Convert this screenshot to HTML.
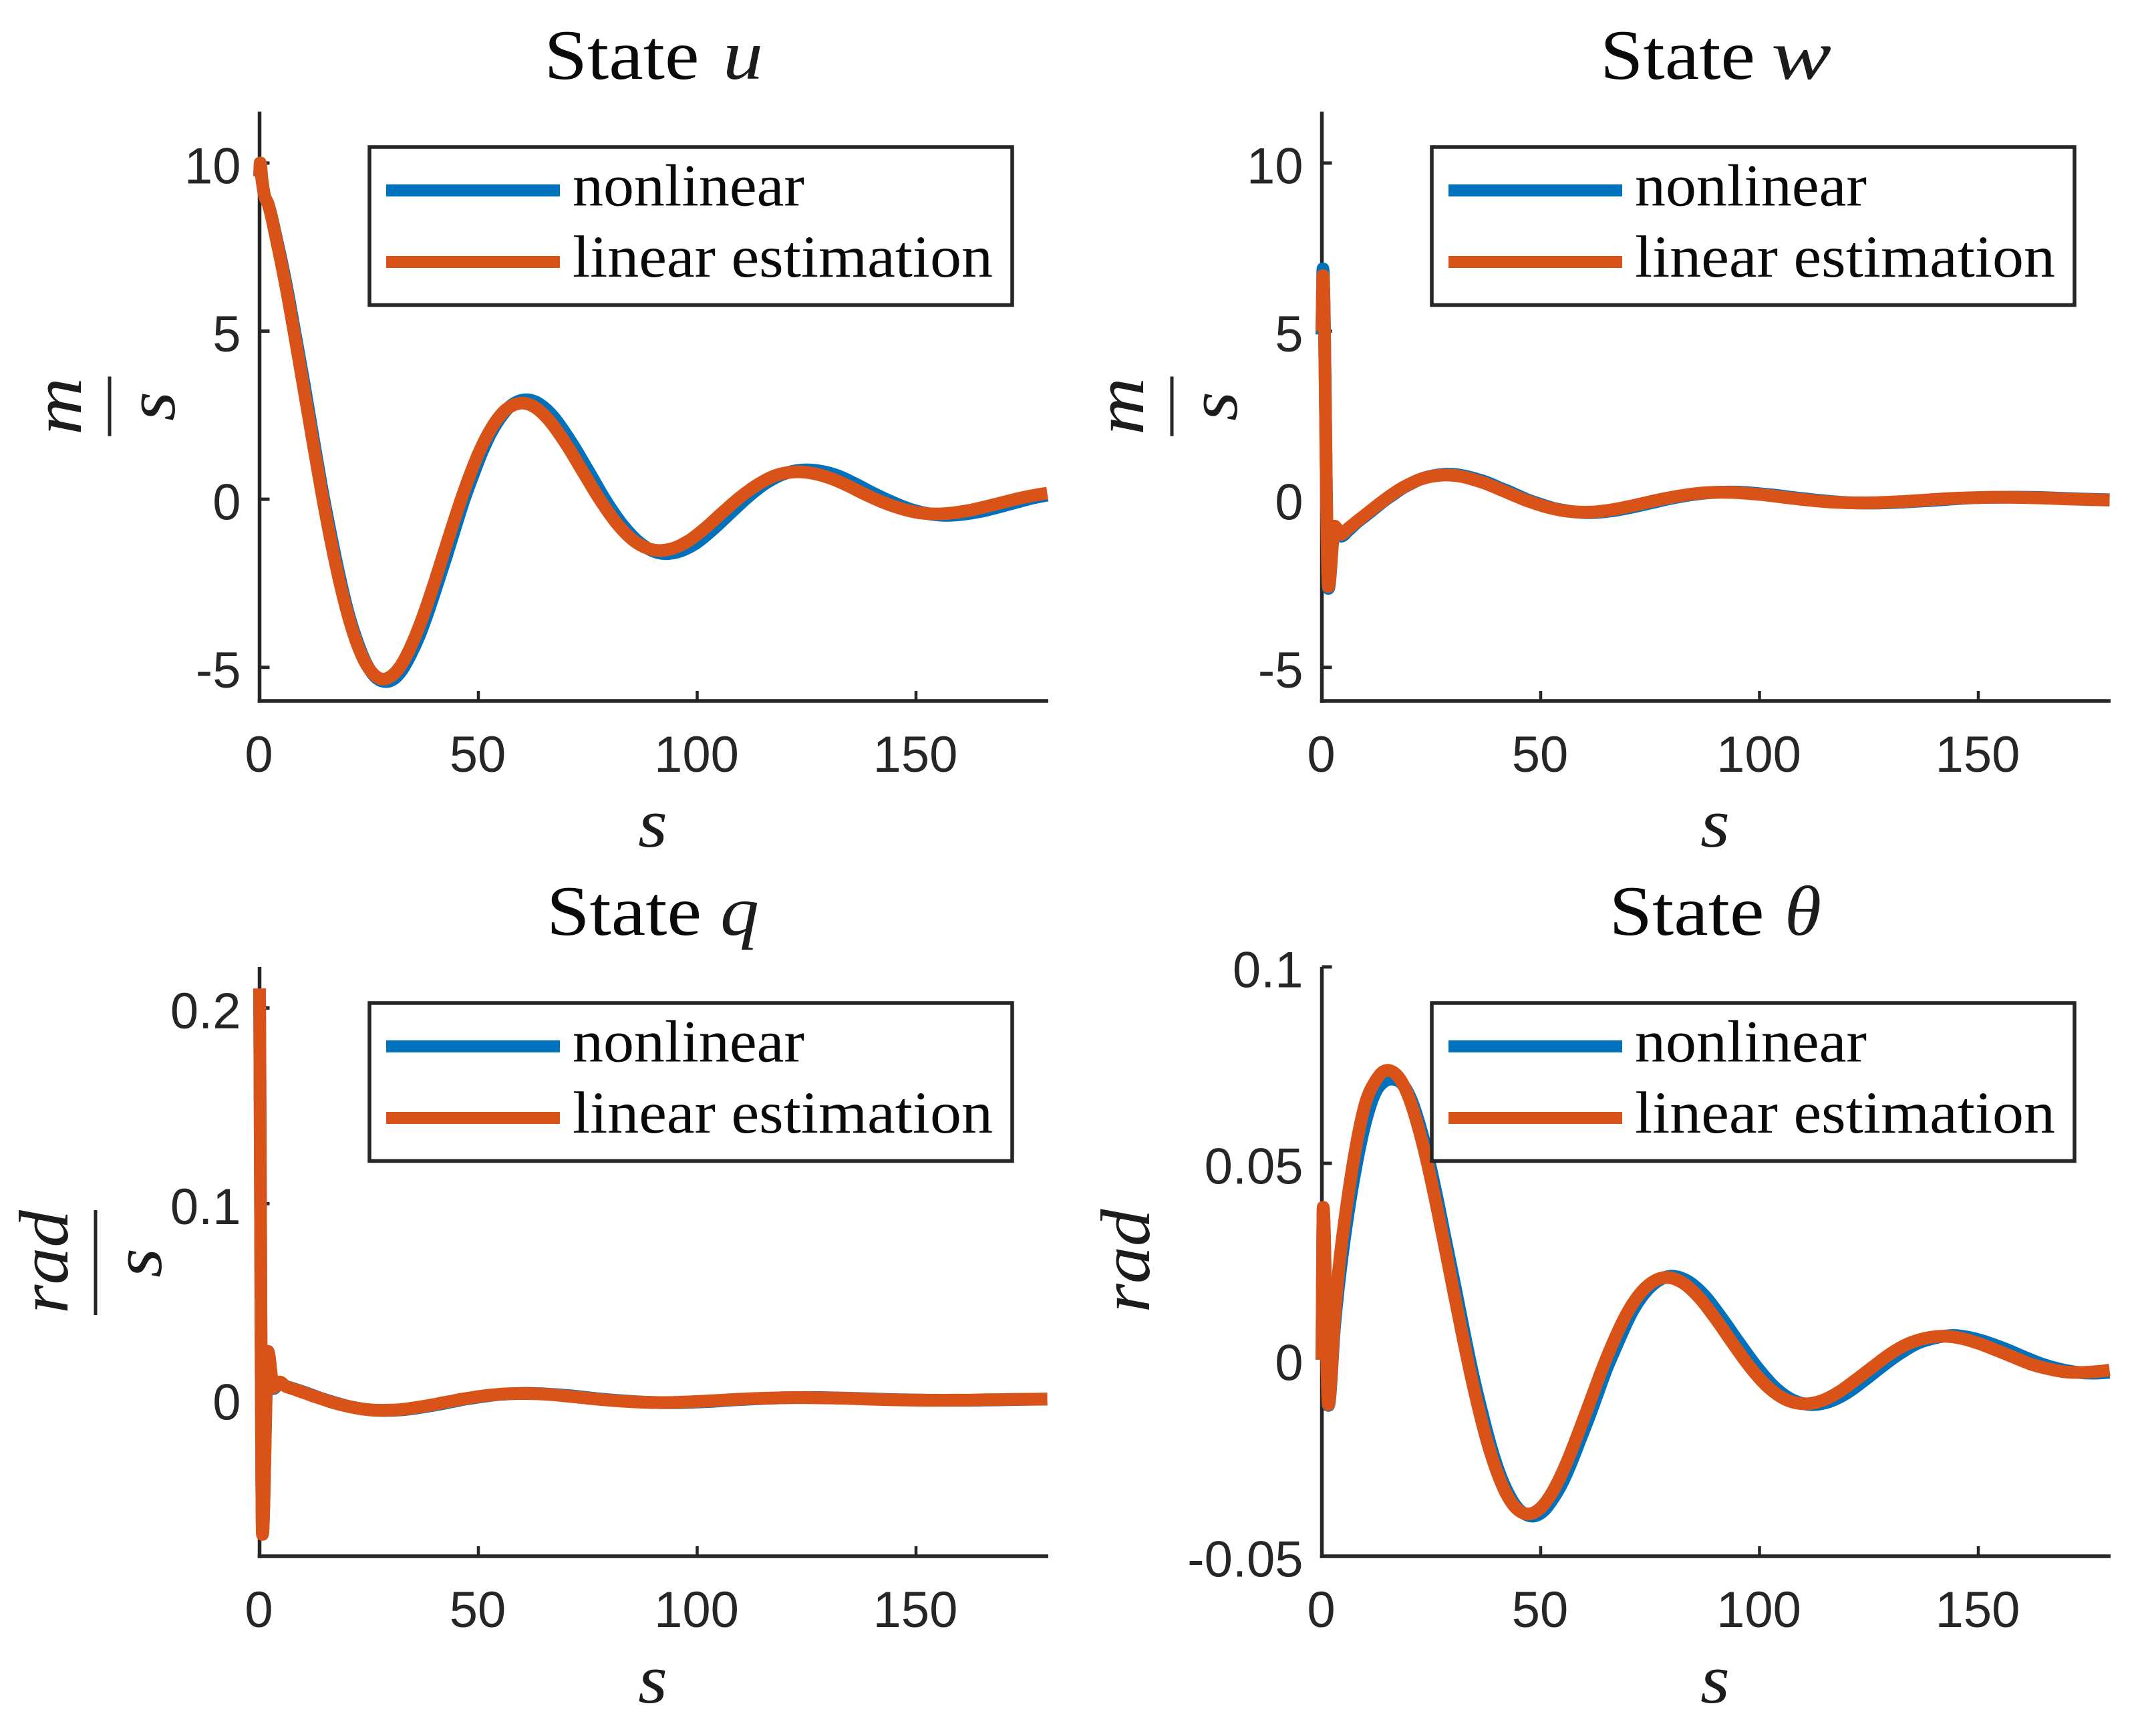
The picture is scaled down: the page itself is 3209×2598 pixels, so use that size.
<!DOCTYPE html>
<html lang="en">
<head>
<meta charset="utf-8">
<title>State estimation: nonlinear vs linear</title>
<style>
html,body{margin:0;padding:0;background:#fff;}
svg{display:block;}
.tick{font-family:"Liberation Sans",sans-serif;font-size:76px;fill:#262626;}
.serif{font-family:"Liberation Serif",serif;fill:#0a0a0a;}
.math{font-family:"Liberation Serif",serif;font-style:italic;fill:#1c1c1c;}
</style>
</head>
<body>
<svg id="chart" xmlns="http://www.w3.org/2000/svg" width="3209" height="2598" viewBox="0 0 3209 2598"></svg>
<script>
// ---------- shared sample times (seconds) ----------
const linearLateTime = [8,10,12,14,16,18,20,22,24,26,28,30,32,34,36,38,40,42,44,46,48,50,52,54,56,58,60,62,64,66,
  70,74,78,82,86,90,94,98,102,106,110,114,118,122,126,130,134,138,142,146,150,154,158,162,166,170,174,178,180];
const nonlinearLateTime = [8.1,10.2,12.2,14.2,16.3,18.3,20.3,22.4,24.4,26.4,28.4,30.5,32.5,34.5,36.6,38.6,40.6,42.7,44.7,46.7,48.8,50.8,52.8,54.9,56.9,58.9,61,63,65,67.1,
  71.1,75.2,79.2,83.3,87.4,91.4,95.5,99.6,103.6,107.7,111.8,115.8,119.9,124,128,132.1,136.1,140.2,144.3,148.3,152.4,156.5,160.5,164.6,168.7,172.7,176.8,180];
const xTicks = [0,50,100,150];

// ---------- state u ----------
const uLinearEarlyTime = [0,0.15,0.55,1.2,1.9,4,6];
const uNonlinearEarlyTime = [0,0.15,0.55,1.2,1.9,4,6.1];
const uLinear = [9.6,10,9.5,9,8.8,7.62,6.33,
  4.88,3.37,1.84,0.34,-1.05,-2.29,-3.35,-4.2,-4.82,-5.2,-5.35,-5.27,-5,-4.54,-3.94,-3.24,-2.46,-1.64,-0.82,-0.03,0.7,1.35,1.89,2.32,2.63,2.8,2.86,2.8,2.63,2.37,
  1.65,0.79,-0.06,-0.78,-1.28,-1.51,-1.48,-1.24,-0.84,-0.37,0.08,0.45,0.71,0.81,0.78,0.645,0.43,0.17,-0.066,-0.255,-0.387,-0.437,-0.414,-0.336,-0.218,-0.09,0.04,0.14,0.18];
const uNonlinear = [9.6,10,9.5,9,8.8,7.68,6.38,
  4.95,3.42,1.87,0.35,-1.07,-2.32,-3.4,-4.26,-4.89,-5.28,-5.42,-5.36,-5.09,-4.63,-4.03,-3.32,-2.53,-1.69,-0.85,-0.03,0.72,1.39,1.95,2.4,2.72,2.9,2.96,2.9,2.73,2.46,
  1.72,0.83,-0.06,-0.82,-1.35,-1.6,-1.57,-1.32,-0.9,-0.4,0.09,0.49,0.76,0.87,0.84,0.7,0.46,0.18,-0.07,-0.28,-0.42,-0.48,-0.45,-0.37,-0.24,-0.1,0.04,0.12];
const uYTicks = [-5,0,5,10];
const uYTickLabels = ['-5','0','5','10'];

// ---------- state w ----------
const wLinearEarlyTime = [0,0.25,1.5,2.9,4.3,6];
const wNonlinearEarlyTime = [0,0.25,1.5,2.9,4.4,6.1];
const wLinear = [5,6.65,-2.6,-0.8,-1.05,-0.87,
  -0.66,-0.455,-0.25,-0.05,0.14,0.31,0.45,0.57,0.65,0.7,0.72,0.71,0.675,0.61,0.53,0.44,0.33,0.22,0.11,0,-0.095,-0.18,-0.255,-0.31,-0.355,-0.375,-0.385,-0.38,-0.355,-0.32,
  -0.22,-0.105,0.01,0.105,0.175,0.205,0.2,0.165,0.115,0.05,-0.01,-0.06,-0.095,-0.11,-0.105,-0.085,-0.06,-0.025,0.01,0.035,0.05,0.06,0.055,0.045,0.03,0.01,-0.005,-0.02,-0.025];
const wNonlinear = [4.9,6.85,-2.65,-0.85,-1.1,-0.92,
  -0.68,-0.47,-0.26,-0.05,0.14,0.32,0.46,0.59,0.67,0.72,0.745,0.735,0.695,0.63,0.55,0.455,0.34,0.23,0.115,0,-0.1,-0.185,-0.265,-0.32,-0.365,-0.39,-0.4,-0.39,-0.365,-0.33,
  -0.23,-0.11,0.01,0.11,0.18,0.21,0.21,0.17,0.12,0.05,-0.01,-0.06,-0.1,-0.115,-0.11,-0.09,-0.06,-0.03,0.01,0.04,0.055,0.06,0.06,0.05,0.03,0.01,-0.005,-0.015];
const wYTicks = [-5,0,5,10];
const wYTickLabels = ['-5','0','5','10'];

// ---------- state q ----------
const qLinearEarlyTime = [0,0.66,1.9,3.2,4.6,6];
const qNonlinearEarlyTime = [0,0.66,1.9,3.2,4.6,6.1];
const qLinear = [0.21,-0.069,0.0245,0.006,0.0089,0.0066,
  0.0051,0.0035,0.0019,0.0004,-0.0011,-0.0024,-0.0035,-0.0044,-0.0051,-0.0055,-0.0056,-0.0055,-0.0053,-0.0048,-0.0041,-0.0034,-0.0026,-0.0017,-0.0009,0,0.0007,0.0014,0.002,0.0024,0.0028,0.0029,0.003,0.0029,0.0028,0.0025,
  0.0017,0.0008,-0.0001,-0.0008,-0.0013,-0.0016,-0.0016,-0.0013,-0.0009,-0.0004,0.0001,0.0005,0.0007,0.0009,0.0008,0.0007,0.0005,0.0002,-0.0001,-0.0003,-0.0004,-0.0005,-0.0004,-0.0004,-0.0002,-0.0001,0,0.0001,0.0002];
const qNonlinear = [0.209,-0.0685,0.0245,0.0055,0.0085,0.0066,
  0.0052,0.0036,0.002,0.0004,-0.0011,-0.0024,-0.0036,-0.0045,-0.0052,-0.0056,-0.0057,-0.0056,-0.0054,-0.0049,-0.0042,-0.0035,-0.0027,-0.0018,-0.0009,0,0.0007,0.0014,0.002,0.0025,0.0028,0.003,0.0031,0.003,0.0028,0.0025,
  0.0018,0.0008,-0.0001,-0.0008,-0.0014,-0.0017,-0.0017,-0.0014,-0.001,-0.0004,0.0001,0.0005,0.0008,0.0009,0.0009,0.0007,0.0005,0.0002,-0.0001,-0.0003,-0.0004,-0.0005,-0.0005,-0.0004,-0.0003,-0.0001,0,0.0001];
const qYTicks = [0,0.1,0.2];
const qYTickLabels = ['0','0.1','0.2'];

// ---------- state theta ----------
const thetaLinearEarlyTime = [0,0.3,1.5,2.9,4,6];
const thetaNonlinearEarlyTime = [0,0.3,1.5,2.9,4.1,6.1];
const thetaLinear = [0,0.0388,-0.0114,0.0106,0.0245,0.0418,
  0.0555,0.0655,0.0705,0.0733,0.0734,0.0712,0.0664,0.0593,0.0505,0.0403,0.0293,0.018,0.0069,-0.0037,-0.0133,-0.0217,-0.0285,-0.0338,-0.0373,-0.039,-0.0391,-0.0377,-0.0349,-0.0309,-0.026,-0.0204,-0.0145,-0.0085,-0.0025,0.003,
  0.0124,0.0184,0.0209,0.0199,0.0161,0.0104,0.004,-0.0021,-0.007,-0.0101,-0.0112,-0.0105,-0.0083,-0.0051,-0.0017,0.0016,0.0041,0.0055,0.006,0.0055,0.0042,0.0025,0.0007,-0.0011,-0.0023,-0.0031,-0.0032,-0.0029,-0.0026];
const thetaNonlinear = [0,0.0385,-0.0116,0.0085,0.0215,0.038,
  0.051,0.0615,0.068,0.0708,0.0714,0.0703,0.0665,0.0595,0.051,0.0408,0.0297,0.0183,0.007,-0.0037,-0.0135,-0.022,-0.0289,-0.0342,-0.0377,-0.0394,-0.0397,-0.0383,-0.0354,-0.0314,-0.0264,-0.0207,-0.0147,-0.0086,-0.0025,0.003,
  0.0126,0.0187,0.0212,0.0202,0.0164,0.0106,0.0041,-0.0021,-0.0071,-0.0103,-0.0114,-0.0107,-0.0085,-0.0052,-0.0017,0.0016,0.0042,0.0056,0.0062,0.0056,0.0043,0.0026,0.0007,-0.0011,-0.0024,-0.0032,-0.0034,-0.0032];
const thetaYTicks = [-0.05,0,0.05,0.1];
const thetaYTickLabels = ['-0.05','0','0.05','0.1'];

// ---------- panel layout ----------
const NS = 'http://www.w3.org/2000/svg';
const svg = document.getElementById('chart');
const INK = '#262626';
const BLUE = '#0072BD';
const ORANGE = '#D95319';

const panels = [
  {id:'u', dx:0, dy:0, yLo:-6, yHi:11.53, ticks:uYTicks, labels:uYTickLabels,
   tL:uLinearEarlyTime.concat(linearLateTime), vL:uLinear, tN:uNonlinearEarlyTime.concat(nonlinearLateTime), vN:uNonlinear,
   sym:'u', symX:1082, symW:60, stateX:814.5, ylabel:'m', ylabelW:86, frac:true},
  {id:'w', dx:1590, dy:0, yLo:-6, yHi:11.53, ticks:wYTicks, labels:wYTickLabels,
   tL:wLinearEarlyTime.concat(linearLateTime), vL:wLinear, tN:wNonlinearEarlyTime.concat(nonlinearLateTime), vN:wNonlinear,
   sym:'w', symX:1061, symW:90, stateX:805, ylabel:'m', ylabelW:86, frac:true},
  {id:'q', dx:0, dy:1280, yLo:-0.0802, yHi:0.221, ticks:qYTicks, labels:qYTickLabels,
   tL:qLinearEarlyTime.concat(linearLateTime), vL:qLinear, tN:qNonlinearEarlyTime.concat(nonlinearLateTime), vN:qNonlinear,
   sym:'q', symX:1078, symW:58, stateX:818, ylabel:'rad', ylabelW:155, frac:true},
  {id:'theta', dx:1590, dy:1280, yLo:-0.05, yHi:0.1, ticks:thetaYTicks, labels:thetaYTickLabels,
   tL:thetaLinearEarlyTime.concat(linearLateTime), vL:thetaLinear, tN:thetaNonlinearEarlyTime.concat(nonlinearLateTime), vN:thetaNonlinear,
   sym:'θ', symX:1081, symW:55, stateX:818.5, ylabel:'rad', ylabelW:155, frac:false}
];

function make(tag, parent, attrs) {
  const el = document.createElementNS(NS, tag);
  for (const k in attrs) el.setAttribute(k, attrs[k]);
  parent.appendChild(el);
  return el;
}

// cubic path through the sampled points: monotone tangents in the initial
// transient (no overshoot on the spikes), smooth tangents after smoothFromX
function curvePath(xs, ys, smoothFromX) {
  const n = xs.length;
  const d = [], m = [];
  for (let i = 0; i < n - 1; i++) d.push((ys[i+1] - ys[i]) / (xs[i+1] - xs[i]));
  m.push(d[0]);
  for (let i = 1; i < n - 1; i++) {
    const h0 = xs[i] - xs[i-1], h1 = xs[i+1] - xs[i];
    if (xs[i] > smoothFromX) {
      m.push((d[i-1] * h1 + d[i] * h0) / (h0 + h1));
      continue;
    }
    if (d[i-1] * d[i] <= 0) { m.push(0); continue; }
    const w1 = 2 * h1 + h0, w2 = h1 + 2 * h0;
    m.push((w1 + w2) / (w1 / d[i-1] + w2 / d[i]));
  }
  m.push(d[n-2]);
  let p = 'M' + xs[0].toFixed(2) + ' ' + ys[0].toFixed(2);
  for (let i = 0; i < n - 1; i++) {
    const h = (xs[i+1] - xs[i]) / 3;
    p += 'C' + (xs[i] + h).toFixed(2) + ' ' + (ys[i] + m[i] * h).toFixed(2) + ' ' +
         (xs[i+1] - h).toFixed(2) + ' ' + (ys[i+1] - m[i+1] * h).toFixed(2) + ' ' +
         xs[i+1].toFixed(2) + ' ' + ys[i+1].toFixed(2);
  }
  return p;
}

panels.forEach(function (pn) {
  const left = 388.5 + pn.dx, right = 1567.5 + pn.dx;
  const top = 167 + pn.dy, bottom = 1049 + pn.dy;
  const xScale = function (t) { return left + t * (right - left) / 180; };
  const yScale = function (v) { return bottom - (v - pn.yLo) * (bottom - top) / (pn.yHi - pn.yLo); };
  const legendDy = pn.dy ? 1281 : 0;
  const smoothFrom = xScale(7);

  const g = make('g', svg, {});
  
  

  // axes
  const yAxis = make('line', g, {x1:left, x2:left, y1:top, y2:bottom + 2.75, stroke:INK, 'stroke-width':5.5});
  
  
  const xAxis = make('line', g, {x1:left - 2.75, x2:right + 1.5, y1:bottom, y2:bottom, stroke:INK, 'stroke-width':5.5});
  
  

  // x ticks and labels
  xTicks.forEach(function (t) {
    const tk = make('line', g, {x1:xScale(t), x2:xScale(t), y1:bottom, y2:bottom - 15, stroke:INK, 'stroke-width':4.5});
    
    
    const lb = make('text', g, {x:xScale(t) - 1, y:bottom + 106, 'text-anchor':'middle', 'class':'tick'});
    lb.textContent = String(t);
    
    
  });

  // y ticks and labels
  pn.ticks.forEach(function (v, i) {
    const tk = make('line', g, {x1:left, x2:left + 15, y1:yScale(v), y2:yScale(v), stroke:INK, 'stroke-width':5});
    
    
    const lb = make('text', g, {x:left - 28, y:yScale(v) + 30.5, 'text-anchor':'end', 'class':'tick'});
    lb.textContent = pn.labels[i];
    
    
  });

  // series
  const blue = make('path', g, {d:curvePath(pn.tN.map(xScale), pn.vN.map(yScale), smoothFrom), fill:'none', stroke:BLUE, 'stroke-width':19, 'stroke-linejoin':'round', 'stroke-linecap':'butt'});
  
  
  const orange = make('path', g, {d:curvePath(pn.tL.map(xScale), pn.vL.map(yScale), smoothFrom), fill:'none', stroke:ORANGE, 'stroke-width':19, 'stroke-linejoin':'round', 'stroke-linecap':'butt'});
  
  

  // legend
  const lg = make('g', g, {});
  
  
  make('rect', lg, {x:553 + pn.dx, y:220 + legendDy, width:962, height:236.5, fill:'#fff', stroke:INK, 'stroke-width':5.5});
  make('line', lg, {x1:578 + pn.dx, x2:838 + pn.dx, y1:285 + legendDy, y2:285 + legendDy, stroke:BLUE, 'stroke-width':18});
  make('line', lg, {x1:578 + pn.dx, x2:838 + pn.dx, y1:392 + legendDy, y2:392 + legendDy, stroke:ORANGE, 'stroke-width':18});
  const t1 = make('text', lg, {x:857 + pn.dx, y:307.5 + legendDy, 'class':'serif', 'font-size':89, textLength:347, lengthAdjust:'spacingAndGlyphs'});
  t1.textContent = 'nonlinear';
  
  
  const t2 = make('text', lg, {x:857 + pn.dx, y:414 + legendDy, 'class':'serif', 'font-size':89, textLength:629, lengthAdjust:'spacingAndGlyphs'});
  t2.textContent = 'linear estimation';
  
  

  // title
  const titleY = 118 + legendDy;
  const st = make('text', g, {x:pn.stateX + pn.dx, y:titleY, 'class':'serif', 'font-size':106, textLength:232, lengthAdjust:'spacingAndGlyphs'});
  st.textContent = 'State';
  
  
  const sy = make('text', g, {x:pn.symX + pn.dx, y:titleY, 'class':'math', 'font-size':106, textLength:pn.symW, lengthAdjust:'spacingAndGlyphs'});
  sy.textContent = pn.sym;
  
  

  // x label
  const xl = make('text', g, {x:977 + pn.dx, y:1267 + legendDy, 'text-anchor':'middle', 'class':'math', 'font-size':105, textLength:44, lengthAdjust:'spacingAndGlyphs'});
  xl.textContent = 's';
  
  

  // y label
  const rad = pn.ylabel === 'rad';
  const numX = pn.frac ? (rad ? 101 : 121) + pn.dx : 1720;
  const cy = rad ? (pn.frac ? 1888.5 : 1887) : 608;
  const yl = make('text', g, {transform:'translate(' + numX + ' ' + cy + ') rotate(-90)', 'text-anchor':'middle', 'class':'math', 'font-size':105, textLength:pn.ylabelW, lengthAdjust:'spacingAndGlyphs'});
  yl.textContent = pn.ylabel;
  
  
  if (pn.frac) {
    const barX = (rad ? 143 : 164) + pn.dx;
    const bar = make('line', g, {x1:barX, x2:barX, y1:rad ? 1811 : 563.5, y2:rad ? 1968 : 652.6, stroke:INK, 'stroke-width':5});
    
    
    const den = make('text', g, {transform:'translate(' + ((rad ? 241 : 261) + pn.dx) + ' ' + (rad ? 1890 : 608) + ') rotate(-90)', 'text-anchor':'middle', 'class':'math', 'font-size':105, textLength:44, lengthAdjust:'spacingAndGlyphs'});
    den.textContent = 's';
    
    
  }
});
</script>
</body>
</html>
